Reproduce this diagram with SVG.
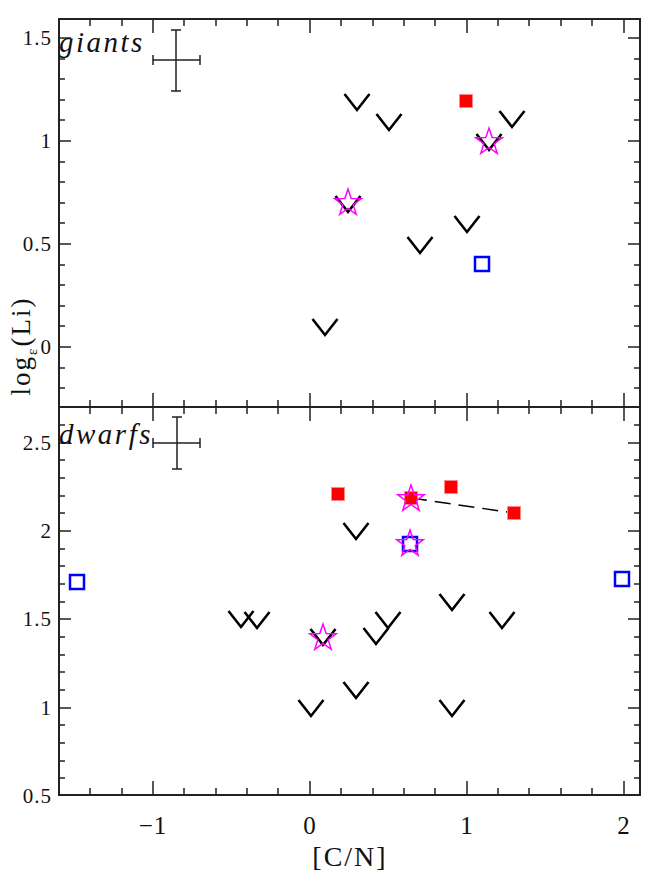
<svg xmlns="http://www.w3.org/2000/svg" width="654" height="871" viewBox="0 0 654 871">
<style>
.ax{stroke:#222;stroke-width:2;fill:none}
.tk{stroke:#222;stroke-width:1.5;fill:none}
.lb{font-family:"Liberation Serif",serif;font-size:21px;fill:#111;letter-spacing:1px}
.xl{font-size:25px}
.it{font-family:"Liberation Serif",serif;font-style:italic;font-size:29px;fill:#111;letter-spacing:2.5px}
.v{stroke:#000;stroke-width:2.6;fill:none}
.st{stroke:#f0f;stroke-width:1.5;fill:none}
.rs{fill:#f00;stroke:#f88;stroke-width:1}
.bs{fill:none;stroke:#00f;stroke-width:2.5}
</style>
<defs>
<path id="V" class="v" d="M-12.5,0 L0,16 L12.5,0"/>
<polygon id="S" class="st" points="0,-14 3.2,-4.4 13.3,-4.3 5.2,1.7 8.2,11.3 0,5.5 -8.2,11.3 -5.2,1.7 -13.3,-4.3 -3.2,-4.4"/>
<rect id="R" class="rs" x="-6.5" y="-6.5" width="13" height="13"/>
<rect id="B" class="bs" x="-7" y="-7" width="14" height="14"/>
</defs>
<g id="frame">
<rect class="ax" x="59" y="19" width="581" height="776"/>
<line class="ax" x1="59" y1="407" x2="640" y2="407"/>
<path class="tk" d="M90,19v7M122,19v7M153,19v14M184,19v7M216,19v7M247,19v7M278,19v7M310,19v14M341,19v7M373,19v7M404,19v7M435,19v7M467,19v14M498,19v7M529,19v7M561,19v7M592,19v7M624,19v14
M90,407v-7M122,407v-7M153,407v-14M184,407v-7M216,407v-7M247,407v-7M278,407v-7M310,407v-14M341,407v-7M373,407v-7M404,407v-7M435,407v-7M467,407v-14M498,407v-7M529,407v-7M561,407v-7M592,407v-7M624,407v-14
M90,407v7M122,407v7M153,407v14M184,407v7M216,407v7M247,407v7M278,407v7M310,407v14M341,407v7M373,407v7M404,407v7M435,407v7M467,407v14M498,407v7M529,407v7M561,407v7M592,407v7M624,407v14
M90,795v-7M122,795v-7M153,795v-14M184,795v-7M216,795v-7M247,795v-7M278,795v-7M310,795v-14M341,795v-7M373,795v-7M404,795v-7M435,795v-7M467,795v-14M498,795v-7M529,795v-7M561,795v-7M592,795v-7M624,795v-14"/>
<path class="tk" d="M59,38h12M59,59h6M59,79h6M59,100h6M59,120h6M59,141h12M59,162h6M59,182h6M59,203h6M59,223h6M59,244h12M59,265h6M59,285h6M59,306h6M59,326h6M59,347h12M59,368h6M59,388h6
M640,38h-12M640,59h-6M640,79h-6M640,100h-6M640,120h-6M640,141h-12M640,162h-6M640,182h-6M640,203h-6M640,223h-6M640,244h-12M640,265h-6M640,285h-6M640,306h-6M640,326h-6M640,347h-12M640,368h-6M640,388h-6
M59,425h6M59,443h12M59,460h6M59,478h6M59,496h6M59,513h6M59,531h12M59,549h6M59,566h6M59,584h6M59,602h6M59,619h12M59,637h6M59,655h6M59,672h6M59,690h6M59,708h12M59,725h6M59,743h6M59,761h6M59,778h6
M640,425h-6M640,443h-12M640,460h-6M640,478h-6M640,496h-6M640,513h-6M640,531h-12M640,549h-6M640,566h-6M640,584h-6M640,602h-6M640,619h-12M640,637h-6M640,655h-6M640,672h-6M640,690h-6M640,708h-12M640,725h-6M640,743h-6M640,761h-6M640,778h-6"/>
</g>
<g id="labels">
<text class="lb" x="52" y="45" text-anchor="end">1.5</text>
<text class="lb" x="52" y="148" text-anchor="end">1</text>
<text class="lb" x="52" y="251" text-anchor="end">0.5</text>
<text class="lb" x="52" y="354" text-anchor="end">0</text>
<text class="lb" x="52" y="450" text-anchor="end">2.5</text>
<text class="lb" x="52" y="538" text-anchor="end">2</text>
<text class="lb" x="52" y="626" text-anchor="end">1.5</text>
<text class="lb" x="52" y="715" text-anchor="end">1</text>
<text class="lb" x="52" y="803" text-anchor="end">0.5</text>
<text class="lb xl" x="153" y="834" text-anchor="middle">−1</text>
<text class="lb xl" x="310" y="834" text-anchor="middle">0</text>
<text class="lb xl" x="467" y="834" text-anchor="middle">1</text>
<text class="lb xl" x="624" y="834" text-anchor="middle">2</text>
<text class="lb" x="350" y="866" text-anchor="middle" style="font-size:28px;letter-spacing:2px">[C/N]</text>
<text class="lb" transform="translate(30,346) rotate(-90)" text-anchor="middle" style="font-size:27px;letter-spacing:2px">log<tspan style="font-size:15px" dy="7">ε</tspan><tspan dy="-7">(Li)</tspan></text>
<text class="it" x="59" y="52">giants</text>
<text class="it" x="59" y="444">dwarfs</text>
</g>
<g id="errorbars" class="tk">
<path d="M176,30V91M171,30h10M171,91h10M153,60h47M153,55v10M200,55v10"/>
<path d="M177,417V469M172,417h10M172,469h10M153,443h47M153,438v10M200,438v10"/>
</g>
<g id="connectors">
<line x1="411" y1="498" x2="514" y2="513" stroke="#000" stroke-width="1.5" stroke-dasharray="16,8"/>
</g>
<g id="giants">
<use href="#V" x="357" y="94"/><use href="#V" x="389" y="114"/><use href="#V" x="512" y="111"/>
<use href="#V" x="467" y="216"/><use href="#V" x="420" y="237"/><use href="#V" x="325" y="319"/>
<use href="#V" x="348" y="196"/><use href="#V" x="489" y="134"/>
<use href="#S" x="348" y="203"/><use href="#S" x="489" y="142"/>
<use href="#R" x="466" y="101"/><use href="#B" x="482" y="264"/>
</g>
<g id="dwarfs">
<use href="#V" x="356" y="523"/><use href="#V" x="241" y="611"/><use href="#V" x="257" y="612"/>
<use href="#V" x="323" y="629"/><use href="#V" x="388" y="612"/><use href="#V" x="376" y="628"/>
<use href="#V" x="452" y="594"/><use href="#V" x="502" y="612"/><use href="#V" x="356" y="682"/>
<use href="#V" x="311" y="700"/><use href="#V" x="452" y="700"/>
<use href="#R" x="338" y="494"/><use href="#R" x="411" y="498"/><use href="#R" x="451" y="487"/><use href="#R" x="514" y="513"/>
<use href="#B" x="410" y="544"/><use href="#B" x="77" y="582"/><use href="#B" x="622" y="579"/>
<use href="#S" x="411" y="499"/><use href="#S" x="410" y="544"/><use href="#S" x="323" y="638"/>
</g>
</svg>
